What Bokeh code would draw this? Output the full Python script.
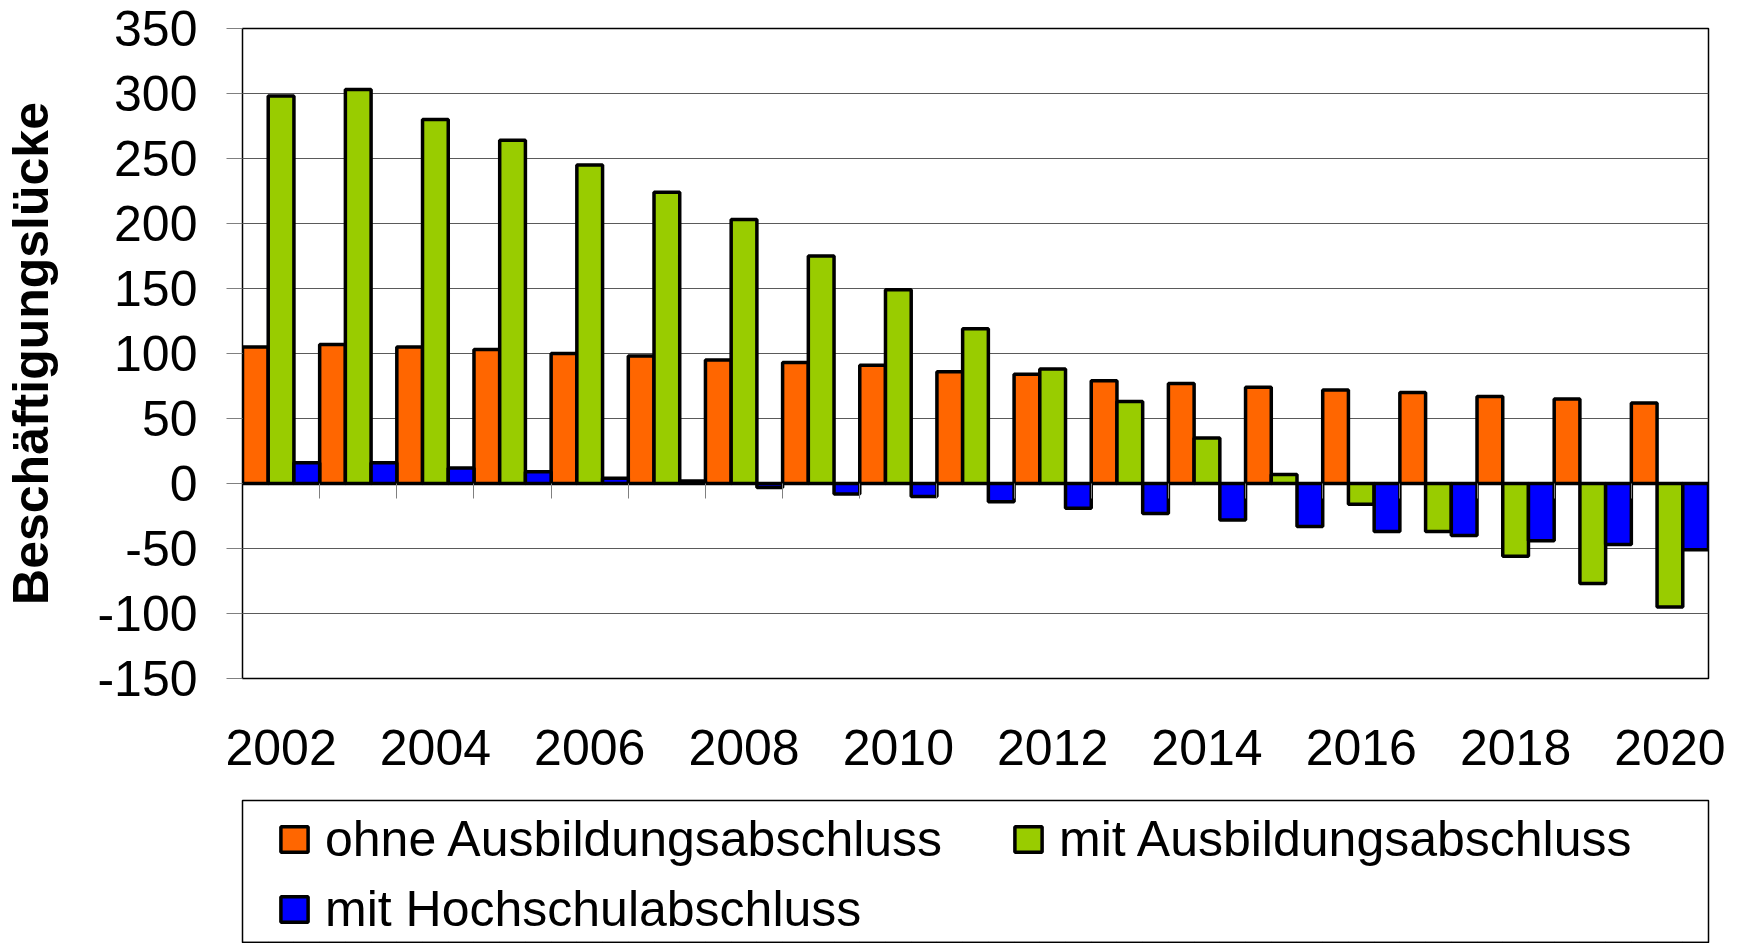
import numpy as np
from bokeh.plotting import figure
from bokeh.layouts import column
from bokeh.models import (ColumnDataSource, Range1d, FixedTicker, LinearAxis,
                          Legend, LegendItem)
from bokeh.transform import dodge
from bokeh.embed import file_html
from bokeh.resources import INLINE

# ---------------- data ----------------
years = list(range(2002, 2021))
ohne_ausbildung = [105, 107, 105, 103, 100, 98, 95, 93, 91, 86, 84, 79, 77, 74, 72, 70, 67, 65, 62]
mit_ausbildung = [298, 303, 280, 264, 245, 224, 203, 175, 149, 119, 88, 63, 35, 7, -16, -37, -56, -77, -95]
mit_hochschule = [16, 16, 12, 9, 4, 2, -3, -8, -10, -14, -19, -23, -28, -33, -37, -40, -44, -47, -51]
series_names = ["ohne Ausbildungsabschluss", "mit Ausbildungsabschluss", "mit Hochschulabschluss"]
series_colors = ["#FF6600", "#99CC00", "#0000FF"]
y_ticks = [-150, -100, -50, 0, 50, 100, 150, 200, 250, 300, 350]
x_label_years = years[::2]
y_title = "Beschäftigungslücke"

FONT = "Liberation Sans"
FS = "50px"
BAR_LW = 3.5

idx = np.arange(len(years))
src = ColumnDataSource(dict(pos=idx, ohne=ohne_ausbildung, mit=mit_ausbildung, hoch=mit_hochschule))
cols = ["ohne", "mit", "hoch"]
w = 1.0 / 3.0
offsets = [-w, 0.0, w]

# ---------------- main chart ----------------
p = figure(width=1734, height=790, output_backend="svg", toolbar_location=None,
           x_range=Range1d(-0.5, len(years) - 0.5), y_range=Range1d(-150, 350),
           min_border_left=242, min_border_right=26, min_border_top=28, min_border_bottom=112)
p.background_fill_color = "white"
p.border_fill_color = "white"
p.outline_line_color = "black"
p.outline_line_width = 1.5

for off, col, color in zip(offsets, cols, series_colors):
    p.vbar(x=dodge("pos", off, range=p.x_range), top=col, width=w, source=src,
           fill_color=color, line_color="black", line_width=BAR_LW)

p.xgrid.visible = False
p.ygrid.grid_line_color = "#5a5a5a"
p.ygrid.grid_line_width = 1

ya = p.yaxis[0]
ya.ticker = FixedTicker(ticks=y_ticks)
ya.major_label_overrides = {v: str(v) for v in y_ticks}
ya.major_label_text_font = FONT
ya.major_label_text_font_size = FS
ya.major_label_text_color = "black"
ya.major_tick_out = 16
ya.major_tick_in = 0
ya.major_tick_line_color = "#808080"
ya.minor_tick_line_color = None
ya.axis_line_color = "black"
ya.major_label_standoff = 29
ya.axis_label = y_title
ya.axis_label_text_font = FONT
ya.axis_label_text_font_style = "bold"
ya.axis_label_text_font_size = FS
ya.axis_label_text_color = "black"
ya.axis_label_standoff = 35

xa = p.xaxis[0]
label_pos = [i for i, y in enumerate(years) if y in x_label_years]
xa.ticker = FixedTicker(ticks=label_pos)
xa.major_label_overrides = {i: str(years[i]) for i in label_pos}
xa.major_label_text_font = FONT
xa.major_label_text_font_size = FS
xa.major_label_text_color = "black"
xa.major_tick_out = 0
xa.major_tick_in = 0
xa.minor_tick_line_color = None
xa.axis_line_color = None
xa.major_label_standoff = 51

# category axis crossing at zero, ticks at category boundaries
bounds = [float(i) - 0.5 for i in idx[1:]]
zero_axis = LinearAxis(fixed_location=0, ticker=FixedTicker(ticks=bounds),
                       major_tick_out=15, major_tick_in=0, major_tick_line_color="#808080",
                       minor_tick_line_color=None, axis_line_color="black", axis_line_width=2.5,
                       major_label_text_color=None)
p.add_layout(zero_axis, "below")

# ---------------- legend box ----------------
# the legend panel shows the same bar series, scrolled out of its (empty) view
p2 = figure(width=1734, height=153, output_backend="svg", toolbar_location=None,
            x_range=Range1d(-0.5, len(years) - 0.5), y_range=Range1d(1000, 1001),
            x_axis_type=None, y_axis_type=None,
            min_border_left=242, min_border_right=26, min_border_top=10, min_border_bottom=0)
p2.outline_line_color = "black"
p2.outline_line_width = 1.5
p2.background_fill_color = "white"
p2.border_fill_color = "white"

proxies = [p2.vbar(x=dodge("pos", off, range=p2.x_range), top=col, width=w, source=src,
                   fill_color=color, line_color="black", line_width=BAR_LW)
           for off, col, color in zip(offsets, cols, series_colors)]

legend_common = dict(border_line_color=None, background_fill_alpha=0, padding=0, margin=0,
                     spacing=10, glyph_width=34, glyph_height=32, label_standoff=14,
                     label_height=60, label_text_font=FONT, label_text_font_size=FS,
                     label_text_color="black", orientation="vertical")
L1 = Legend(items=[LegendItem(label=series_names[0], renderers=[proxies[0]]),
                   LegendItem(label=series_names[2], renderers=[proxies[2]])],
            location=(35, 4), **legend_common)
L2 = Legend(items=[LegendItem(label=series_names[1], renderers=[proxies[1]])],
            location=(769, 74), **legend_common)
p2.add_layout(L1, "center")
p2.add_layout(L2, "center")

layout = column(p, p2, spacing=0)
open("out.html", "w").write(file_html(layout, INLINE))
